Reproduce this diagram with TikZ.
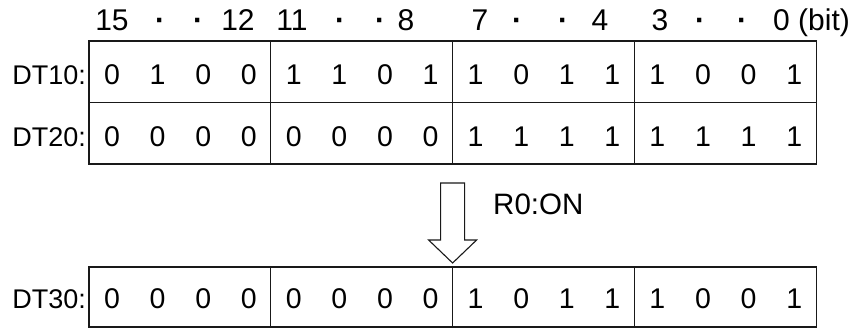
\documentclass[tikz,border=0pt]{standalone}
\usepackage{fontspec}
\setmainfont{Liberation Sans}
\usetikzlibrary{positioning}

\begin{document}
\begin{tikzpicture}[
					x=1pt, y=-1pt,
					cell/.style={rectangle, draw=black!90, line width=1.1pt, minimum width=181.8pt,
						inner sep=0pt, outer sep=0pt, anchor=north west},
					bit/.style={font=\fontsize{28.5}{28.5}\selectfont, anchor=base, inner sep=0pt},
					lbl/.style={font=\fontsize{27}{27}\selectfont, anchor=base east, inner sep=0pt},
					hdr/.style={font=\fontsize{30}{30}\selectfont, anchor=base, inner sep=0pt},
					trig/.style={draw=black!90, fill=white, line width=1.1pt, line join=miter}
					]
					\useasboundingbox (0,0) rectangle (858,329);
					
					% --- Bit numbers ---
					\foreach \x/\t [count=\i] in {112/15, 238/12, 292/11, 406/8, 480/7, 600/4, 660/3}
						\node[hdr] (h\i) at (\x,31) {\t};
					\foreach \x [count=\i] in {160, 198, 340, 380, 517, 563, 700, 742}
						\node[hdr] (dot\i) at (\x,31) {\textbf{·}};
					\node[hdr, anchor=base west] (hbit) at (773,31) {0 (bit)};
					
					% --- Source registers DT10 and DT20 ---
					\foreach \g in {0,...,3} {
						\node[cell, minimum height=61.5pt] (a\g) at ({89+181.8*\g},41) {};
						\node[cell, minimum height=61.5pt] (b\g) at ({89+181.8*\g},102.5) {};
					}
					\node[lbl] (dt10) at (86,84) {DT10:};
					\node[lbl] (dt20) at (86,146) {DT20:};
					\foreach \b [count=\i from 0, evaluate=\i as \xx using {89+181.8*int(\i/4)+23+45.6*mod(\i,4)}]
						in {0,1,0,0, 1,1,0,1, 1,0,1,1, 1,0,0,1}
						\node[bit] (p\i) at (\xx,84) {\b};
					\foreach \b [count=\i from 0, evaluate=\i as \xx using {89+181.8*int(\i/4)+23+45.6*mod(\i,4)}]
						in {0,0,0,0, 0,0,0,0, 1,1,1,1, 1,1,1,1}
						\node[bit] (q\i) at (\xx,146) {\b};
					
					% --- Result register DT30 ---
					\foreach \g in {0,...,3}
						\node[cell, minimum height=60pt] (c\g) at ({89+181.8*\g},267) {};
					\node[lbl] (dt30) at (86,308) {DT30:};
					\foreach \b [count=\i from 0, evaluate=\i as \xx using {89+181.8*int(\i/4)+23+45.6*mod(\i,4)}]
						in {0,0,0,0, 0,0,0,0, 1,0,1,1, 1,0,0,1}
						\node[bit] (r\i) at (\xx,308) {\b};
					
					% --- Trigger arrow ---
					\coordinate (tip) at ([yshift=4pt]c2.north west);
					\draw[trig] (tip) -- ++(-24,-23) -- ++(12,0) -- ++(0,-57) -- ++(24,0)
						-- ++(0,57) -- ++(12,0) -- cycle;
					\node[font=\fontsize{29.5}{29.5}\selectfont, anchor=base west, inner sep=0pt] (ron) at (493,214) {R0:ON};
				\end{tikzpicture}
\end{document}
